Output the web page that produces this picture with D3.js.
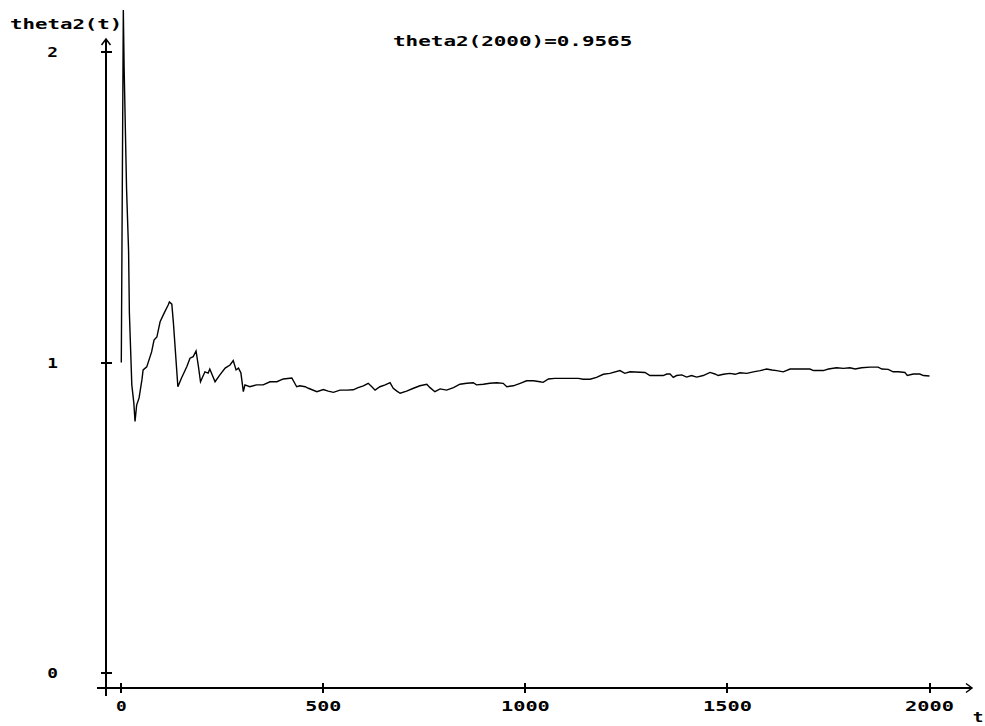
<!DOCTYPE html>
<html>
<head>
<meta charset="utf-8">
<script src="https://cdn.jsdelivr.net/npm/d3@7"></script>
<style>
  html, body { margin: 0; padding: 0; background: #fff; }
  svg { display: block; }
  text { font-family: "DejaVu Sans Mono", monospace; font-weight: bold; fill: #000; }
</style>
</head>
<body>
<svg id="chart" width="985" height="726"></svg>
<script>
// ---- data ----
const tValues = [0, 5, 7, 13, 18, 20, 26, 31, 34, 38, 44, 51, 54, 63, 75, 81, 88, 96, 106, 116, 119, 125, 129, 140, 149, 162, 170, 178, 185, 191, 196, 207, 215, 219, 232, 244, 257, 269, 277, 284, 290, 296, 302, 306, 318, 335, 351, 368, 385, 401, 422, 434, 442, 455, 463, 484, 500, 512, 525, 541, 558, 574, 586, 599, 611, 620, 628, 640, 653, 665, 673, 682, 690, 706, 723, 739, 756, 764, 776, 789, 805, 822, 838, 855, 871, 879, 896, 912, 929, 945, 954, 970, 987, 1003, 1020, 1036, 1044, 1057, 1073, 1102, 1131, 1143, 1160, 1176, 1193, 1209, 1234, 1246, 1259, 1296, 1308, 1341, 1350, 1358, 1366, 1374, 1387, 1399, 1411, 1424, 1440, 1457, 1469, 1477, 1490, 1506, 1519, 1531, 1548, 1564, 1581, 1597, 1610, 1622, 1638, 1655, 1704, 1713, 1737, 1750, 1770, 1787, 1803, 1816, 1832, 1853, 1873, 1882, 1898, 1910, 1923, 1939, 1945, 1960, 1976, 1985, 2000];
const thetaValues = [1.0, 2.135, 1.95, 1.56, 1.36, 1.16, 0.928, 0.87, 0.81, 0.863, 0.886, 0.944, 0.976, 0.986, 1.034, 1.072, 1.082, 1.131, 1.159, 1.185, 1.195, 1.188, 1.127, 0.922, 0.950, 0.986, 1.014, 1.019, 1.037, 0.986, 0.938, 0.970, 0.966, 0.979, 0.938, 0.960, 0.982, 0.992, 1.006, 0.976, 0.982, 0.966, 0.906, 0.928, 0.922, 0.928, 0.928, 0.938, 0.938, 0.947, 0.950, 0.922, 0.925, 0.922, 0.917, 0.906, 0.913, 0.908, 0.904, 0.911, 0.911, 0.912, 0.919, 0.925, 0.933, 0.922, 0.911, 0.922, 0.928, 0.935, 0.917, 0.908, 0.901, 0.908, 0.917, 0.925, 0.930, 0.919, 0.906, 0.915, 0.911, 0.919, 0.930, 0.933, 0.935, 0.928, 0.930, 0.933, 0.935, 0.933, 0.922, 0.925, 0.933, 0.941, 0.941, 0.938, 0.936, 0.947, 0.949, 0.949, 0.949, 0.946, 0.946, 0.952, 0.962, 0.965, 0.974, 0.965, 0.970, 0.968, 0.958, 0.958, 0.963, 0.963, 0.952, 0.958, 0.960, 0.953, 0.958, 0.953, 0.958, 0.968, 0.963, 0.958, 0.962, 0.965, 0.962, 0.967, 0.965, 0.970, 0.974, 0.979, 0.976, 0.974, 0.970, 0.979, 0.979, 0.974, 0.974, 0.979, 0.983, 0.981, 0.983, 0.979, 0.983, 0.985, 0.985, 0.979, 0.978, 0.970, 0.970, 0.968, 0.958, 0.963, 0.963, 0.958, 0.9565];
const xTicks = [0, 500, 1000, 1500, 2000];
const yTicks = [0, 1, 2];
const xTitle = "t";
const yTitle = "theta2(t)";
const chartTitle = "theta2(2000)=0.9565";

// ---- layout ----
const svg = d3.select("#chart");
const x = d3.scaleLinear().domain([0, 2000]).range([121.3, 929.5]);
const y = d3.scaleLinear().domain([0, 2]).range([673, 52]);
const axisX0 = 106;   // pixel position of the vertical axis
const axisY0 = 688;   // pixel position of the horizontal axis
const charW = 12.7;

function label(sel, txt, cx, baseline, anchor) {
  const w = txt.length * charW - 2;
  let xs = cx;
  if (anchor === "middle") xs = cx - w / 2;
  else if (anchor === "end") xs = cx - w;
  sel.append("text")
    .attr("x", xs).attr("y", baseline)
    .attr("font-size", 14)
    .attr("textLength", w)
    .attr("lengthAdjust", "spacingAndGlyphs")
    .text(txt);
}

const g = svg.append("g").attr("shape-rendering", "crispEdges");

// horizontal axis
g.append("line").attr("x1", 97).attr("x2", 972).attr("y1", axisY0).attr("y2", axisY0)
  .attr("stroke", "#000").attr("stroke-width", 1.5);
g.append("path").attr("d", `M966,683.5L972,688L966,692.5`).attr("fill", "none")
  .attr("stroke", "#000").attr("stroke-width", 1.5).attr("shape-rendering", "auto");

// vertical axis
g.append("line").attr("x1", axisX0).attr("x2", axisX0).attr("y1", 696).attr("y2", 39)
  .attr("stroke", "#000").attr("stroke-width", 1.5);
g.append("path").attr("d", `M101.5,45L106,39L110.5,45`).attr("fill", "none")
  .attr("stroke", "#000").attr("stroke-width", 1.5).attr("shape-rendering", "auto");

// x ticks
const xt = g.selectAll(".xt").data(xTicks).enter();
xt.append("line")
  .attr("x1", d => Math.round(x(d))).attr("x2", d => Math.round(x(d)))
  .attr("y1", axisY0 - 5).attr("y2", axisY0 + 5)
  .attr("stroke", "#000").attr("stroke-width", 1.5);
xTicks.forEach(d => label(svg, String(d), x(d), 710.5, "middle"));

// y ticks
const yt = g.selectAll(".yt").data(yTicks).enter();
yt.append("line")
  .attr("x1", axisX0 - 5.5).attr("x2", axisX0 + 5.5)
  .attr("y1", d => Math.round(y(d))).attr("y2", d => Math.round(y(d)))
  .attr("stroke", "#000").attr("stroke-width", 1.5);
yTicks.forEach(d => label(svg, String(d), 52.5, y(d) + 5, "middle"));

// titles
label(svg, yTitle, 10, 29, "start");
label(svg, xTitle, 978, 722, "middle");
label(svg, chartTitle, 393, 45.5, "start");

// data line
const data = tValues.map((t, i) => ({ t, v: thetaValues[i] }));
const line = d3.line().x(d => x(d.t)).y(d => y(d.v));
svg.append("path").datum(data).attr("d", line)
  .attr("fill", "none").attr("stroke", "#000").attr("stroke-width", 1.4)
  .attr("stroke-linejoin", "miter");
</script>
</body>
</html>
